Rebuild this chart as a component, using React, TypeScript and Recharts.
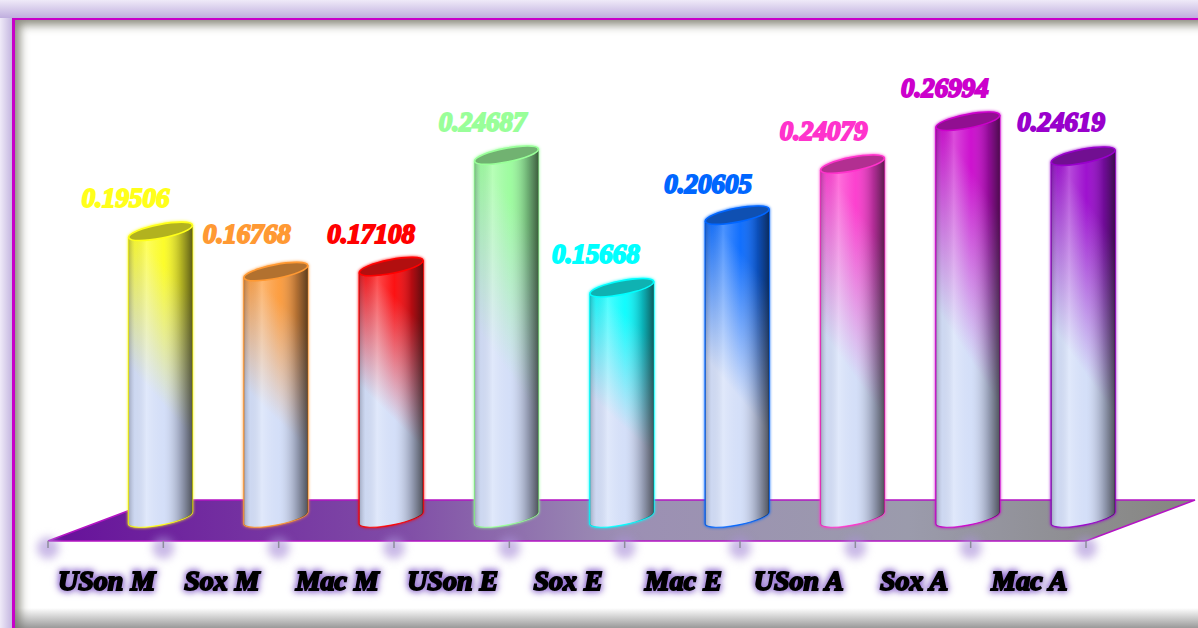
import React from "react";
import { BarChart, Bar, XAxis, YAxis, LabelList } from "recharts";

// Series readings, one per column.
const categories = ["USon M", "Sox M", "Mac M", "USon E", "Sox E", "Mac E", "USon A", "Sox A", "Mac A"];
const values = [0.19506, 0.16768, 0.17108, 0.24687, 0.15668, 0.20605, 0.24079, 0.26994, 0.24619];
const colors = ["#ffff1a", "#ff9933", "#ff0000", "#99ff99", "#00ffff", "#0066ff", "#ff33cc", "#cc00cc", "#9900cc"];

// Hand-placed value labels: offset from the top of each column.
const labelShiftX = [-35, -29, -20, -24, -26, -29, -29, -23, -22];
const labelShiftY = [-24, -29, -24, -24, -25, -22, -24, -24, -25];

const rows = categories.map((name, i) => ({ name, value: values[i], color: colors[i] }));

// The columns stand on the back of the floor, so they sit off the axis bands.
const DEPTH_X = 54.5;
const DEPTH_Y = 23;
const TILT = 11;
const PLOT_BOTTOM = 541;
const FONT = "'Liberation Serif', serif";

function Cylinder(props: any) {
  const { x, y, width, height, index, payload } = props;
  const cx = x + width / 2 + DEPTH_X;
  const top = y - DEPTH_Y;
  const bottom = y + height - DEPTH_Y;
  const half = width / 2;
  const rad = (TILT * Math.PI) / 180;
  const rx = half / Math.cos(rad);
  const lift = rx * Math.sin(rad);
  const ry = 7;
  const body = [
    `M${cx - half},${top + lift}`,
    `L${cx - half},${bottom + lift}`,
    `A${rx},${ry} ${-TILT} 0 0 ${cx + half},${bottom - lift}`,
    `L${cx + half},${top - lift}`,
    `A${rx},${ry} ${-TILT} 0 1 ${cx - half},${top + lift}`,
    "Z",
  ].join(" ");
  const tint = `tint-${index}`;
  return (
    <g style={{ filter: `drop-shadow(0 0 1.5px ${payload.color})` }}>
      <defs>
        <linearGradient id={tint} x1="0.62" y1="0" x2="0.38" y2="1">
          <stop offset="0" stopColor={payload.color} />
          <stop offset="0.14" stopColor={payload.color} />
          <stop offset="0.58" stopColor="#d3dff9" />
          <stop offset="1" stopColor="#d3dff9" />
        </linearGradient>
      </defs>
      <path d={body} fill={`url(#${tint})`} stroke={payload.color} strokeWidth={1.2} />
      <path d={body} fill="url(#roundShade)" />
      <ellipse
        cx={cx}
        cy={top}
        rx={rx}
        ry={ry}
        transform={`rotate(${-TILT} ${cx} ${top})`}
        fill={payload.color}
        stroke={payload.color}
        strokeWidth={1.4}
      />
      <ellipse
        cx={cx}
        cy={top}
        rx={rx - 1}
        ry={ry - 1}
        transform={`rotate(${-TILT} ${cx} ${top})`}
        fill="#2a2a2a"
        fillOpacity={0.36}
      />
    </g>
  );
}

function ValueLabel(props: any) {
  const { x, y, width, index, value } = props;
  return (
    <text
      x={x + width / 2 + DEPTH_X + labelShiftX[index]}
      y={y - DEPTH_Y + labelShiftY[index]}
      textAnchor="middle"
      fontFamily={FONT}
      fontWeight="bold"
      fontStyle="italic"
      fontSize={27}
      fill={colors[index]}
      stroke={colors[index]}
      strokeWidth={1.9}
    >
      {Number(value).toFixed(5)}
    </text>
  );
}

function CategoryTick(props: any) {
  const { x, y, payload, index } = props;
  const band = 1038 / categories.length;
  const edges = index === categories.length - 1 ? [x - band / 2, x + band / 2] : [x - band / 2];
  return (
    <g>
      {edges.map((edge) => (
        <g key={edge}>
          <circle cx={edge} cy={y + 7} r={11} fill="#a98fd8" fillOpacity={0.62} style={{ filter: "blur(4px)" }} />
          <line x1={edge} x2={edge} y1={y} y2={y + 7} stroke="#8c8c9c" strokeWidth={1.5} />
        </g>
      ))}
      <text
        x={x + 1}
        y={y + 49}
        textAnchor="middle"
        fontFamily={FONT}
        fontWeight="bold"
        fontStyle="italic"
        fontSize={28}
        fill="#000"
        stroke="#000"
        strokeWidth={1.9}
        style={{ filter: "drop-shadow(0 0 3px #8f68d0) drop-shadow(0 0 3px #a98fd8)" }}
      >
        {payload.value}
      </text>
    </g>
  );
}

function Floor() {
  return (
    <g>
      <defs>
        <linearGradient id="floorFill" x1="0" y1="0" x2="1" y2="0">
          <stop offset="0" stopColor="#66109a" />
          <stop offset="0.3" stopColor="#7f4aa6" />
          <stop offset="0.5" stopColor="#9c8fb4" />
          <stop offset="0.75" stopColor="#9b9bac" />
          <stop offset="1" stopColor="#85857f" />
        </linearGradient>
        <linearGradient id="roundShade" x1="0" y1="0" x2="1" y2="0">
          <stop offset="0" stopColor="#223" stopOpacity={0.3} />
          <stop offset="0.1" stopColor="#99a" stopOpacity={0.1} />
          <stop offset="0.28" stopColor="#fff" stopOpacity={0.3} />
          <stop offset="0.55" stopColor="#dde" stopOpacity={0.08} />
          <stop offset="0.82" stopColor="#223" stopOpacity={0.34} />
          <stop offset="1" stopColor="#111" stopOpacity={0.68} />
        </linearGradient>
      </defs>
      <polygon
        points={`48,${PLOT_BOTTOM} 1086,${PLOT_BOTTOM} 1195,500 157,500`}
        fill="url(#floorFill)"
        stroke="#b414c4"
        strokeWidth={1.6}
      />
    </g>
  );
}

export default function App() {
  return (
    <div style={{ position: "fixed", left: 0, top: 0, width: 1198, height: 628, overflow: "hidden", background: "#fff" }}>
      <div
        style={{
          position: "absolute",
          left: 0,
          top: 0,
          width: 1198,
          height: 628,
          background:
            "linear-gradient(to bottom, #efeaf8 0, #bfaede 18px, transparent 18px), linear-gradient(to right, #efeaf8 0, #c4b6e0 12px, transparent 12px)",
        }}
      />
      <div
        style={{
          position: "absolute",
          left: 12,
          top: 18,
          width: 1186,
          height: 610,
          boxSizing: "border-box",
          borderLeft: "3px solid #c800c8",
          borderTop: "2.5px solid #c800c8",
          background: "#fff",
          boxShadow: "inset 8px 8px 10px -3px rgba(70,70,50,0.62)",
        }}
      />
      <div
        style={{
          position: "absolute",
          left: 15,
          top: 608,
          width: 1183,
          height: 20,
          background: "linear-gradient(to bottom, rgba(120,120,120,0), rgba(110,110,110,0.7))",
        }}
      />
      <BarChart
        width={1198}
        height={628}
        data={rows}
        margin={{ top: 56, right: 112, bottom: 0, left: 48 }}
        style={{ position: "absolute", left: 0, top: 0 }}
      >
        <Floor />
        <XAxis
          dataKey="name"
          interval={0}
          height={87}
          axisLine={false}
          tickLine={false}
          tickSize={0}
          tickMargin={0}
          tick={<CategoryTick />}
        />
        <YAxis hide domain={[0, 0.33]} />
        <Bar dataKey="value" barSize={64} shape={<Cylinder />} isAnimationActive={false}>
          <LabelList dataKey="value" content={<ValueLabel />} />
        </Bar>
      </BarChart>
    </div>
  );
}
